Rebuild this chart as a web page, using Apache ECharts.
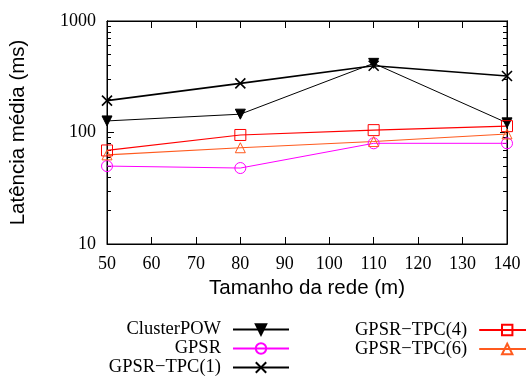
<!DOCTYPE html>
<html>
<head>
<meta charset="utf-8">
<script src="https://cdn.jsdelivr.net/npm/echarts@6/dist/echarts.min.js"></script>
<style>
  html, body { margin: 0; padding: 0; background: #fff; }
  #chart { width: 526px; height: 376px; }
</style>
</head>
<body>
<div id="chart"></div>
<script>
// network size (m) on x, mean latency (ms) on a log y axis
const networkSizes = [50, 80, 110, 140];
const clusterPow = [127, 146, 417, 122];
const gpsr = [50, 48, 80, 80];
const gpsrTpc1 = [193, 276, 397, 321];
const gpsrTpc4 = [69, 95, 105, 114];
const gpsrTpc6 = [63, 73, 83, 97];
const minorYTicks = [20, 30, 40, 50, 60, 70, 80, 90, 200, 300, 400, 500, 600, 700, 800, 900];

const serif = "'Liberation Serif', 'DejaVu Serif', serif";
const sans = "'Liberation Sans', Arial, sans-serif";

const chart = echarts.init(document.getElementById("chart"), null, { renderer: "canvas" });

function pairs(values) {
  return networkSizes.map((x, i) => [x, values[i]]);
}

function lineSeries(name, values, color, width, symbol, itemStyle, extra) {
  return Object.assign({
    name,
    type: "line",
    data: pairs(values),
    symbol,
    symbolSize: 10,
    clip: false,
    lineStyle: { color, width },
    itemStyle: Object.assign({ color, borderColor: color, borderWidth: 1 }, itemStyle),
    emphasis: { disabled: true },
    animation: false,
  }, extra || {});
}

const xCommon = {
  type: "value",
  min: 50,
  max: 140,
  interval: 10,
  splitLine: { show: false },
  axisLine: { show: true, onZero: false, lineStyle: { color: "#000", width: 1 } },
  axisTick: { show: true, inside: true, length: 7, lineStyle: { color: "#000" } },
};

const yCommon = {
  type: "log",
  logBase: 10,
  min: 10,
  max: 1000,
  splitLine: { show: false },
  axisLine: { show: true, lineStyle: { color: "#000" } },
  axisTick: { show: true, inside: true, length: 7, lineStyle: { color: "#000" } },
};

// second log axis on each side, only for the minor ticks 20..90, 200..900
const yMinor = Object.assign({}, yCommon, {
  axisLabel: { show: false },
  axisTick: { show: true, inside: true, length: 4, customValues: minorYTicks, lineStyle: { color: "#000" } },
});

const legendCommon = {
  orient: "vertical",
  align: "right",
  padding: 0,
  height: 70,
  itemWidth: 56,
  itemHeight: 13,
  itemGap: 0,
  selectedMode: false,
  textStyle: { fontFamily: serif, fontSize: 18.5, lineHeight: 19, color: "#000", padding: [0, 7, 0, 0] },
};

chart.setOption({
  animation: false,
  backgroundColor: "#fff",
  grid: { left: 107, right: 19, top: 21, bottom: 132, show: true, borderColor: "#000", borderWidth: 1 },
  legend: [
    Object.assign({ right: 236, top: 320, data: ["ClusterPOW", "GPSR", "GPSR\u2212TPC(1)"] }, legendCommon),
    Object.assign({ left: 355, top: 320.5, data: ["GPSR\u2212TPC(4)", "GPSR\u2212TPC(6)"] }, legendCommon),
  ],
  xAxis: [
    Object.assign({}, xCommon, {
      position: "bottom",
      axisLabel: { fontFamily: serif, fontSize: 18, color: "#000", margin: 11 },
      name: "Tamanho da rede (m)",
      nameLocation: "middle",
      nameGap: 32,
      nameTextStyle: { fontFamily: sans, fontSize: 20.5, color: "#000" },
    }),
    Object.assign({}, xCommon, { position: "top", axisLabel: { show: false } }),
  ],
  yAxis: [
    Object.assign({}, yCommon, {
      position: "left",
      axisLabel: { fontFamily: serif, fontSize: 18, color: "#000", margin: 11, formatter: (v) => String(v) },
      name: "Latência média (ms)",
      nameLocation: "middle",
      nameGap: 78,
      nameTextStyle: { fontFamily: sans, fontSize: 20.5, color: "#000" },
    }),
    Object.assign({}, yMinor, { position: "left" }),
    Object.assign({}, yCommon, { position: "right", axisLabel: { show: false } }),
    Object.assign({}, yMinor, { position: "right" }),
  ],
  series: [
    lineSeries("ClusterPOW", clusterPow, "#000", 1, "triangle", {}, { symbolRotate: 180, symbolSize: 10 }),
    lineSeries("GPSR", gpsr, "#ff00ff", 1, "circle", { color: "rgba(0,0,0,0)" }, { symbolSize: 11 }),
    lineSeries("GPSR\u2212TPC(1)", gpsrTpc1, "#000", 1.6, "path://M0,0L10,10M10,0L0,10", { borderWidth: 1.6 }, { symbolSize: 10 }),
    lineSeries("GPSR\u2212TPC(4)", gpsrTpc4, "#ff0000", 1.2, "rect", { color: "rgba(0,0,0,0)" }, { symbolSize: 11 }),
    lineSeries("GPSR\u2212TPC(6)", gpsrTpc6, "#ff5a1e", 1.2, "triangle", { color: "rgba(0,0,0,0)" }, { symbolSize: 10 }),
  ],
});
</script>
</body>
</html>
